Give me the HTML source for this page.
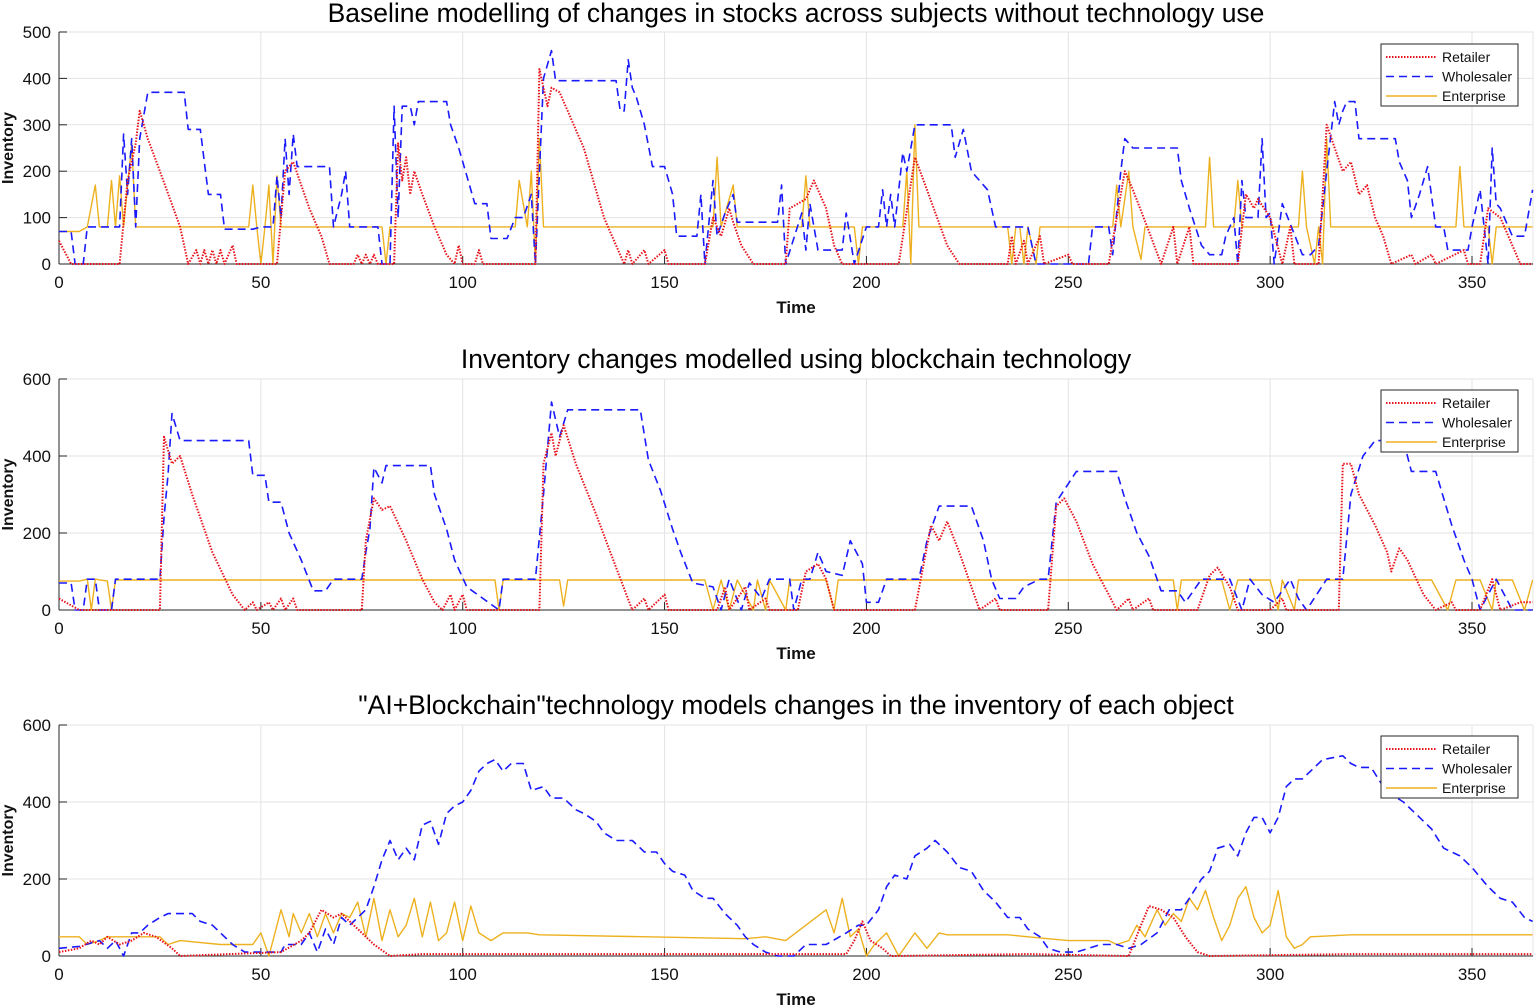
<!DOCTYPE html>
<html><head><meta charset="utf-8">
<style>
html,body{margin:0;padding:0;background:#fff;}
svg{display:block;font-family:"Liberation Sans",Arial,sans-serif;}
</style></head>
<body>
<svg id="chart" width="1535" height="1006" viewBox="0 0 1535 1006" xmlns="http://www.w3.org/2000/svg"></svg>
<script>
// ---------- Data (time, value breakpoints) ----------
const timeTicks = [0,50,100,150,200,250,300,350];
const p1Titles = "Baseline modelling of changes in stocks across subjects without technology use";
const p2Titles = "Inventory changes modelled using blockchain technology";
const p3Titles = "\"AI+Blockchain\"technology models changes in the inventory of each object";
const p1YTicks = [0,100,200,300,400,500];
const p2YTicks = [0,200,400,600];
const p3YTicks = [0,200,400,600];
const legendLabels = ["Retailer","Wholesaler","Enterprise"];

// Panel 1
const p1WholesalerT = [0,3,4,6,7,15,16,17,18,19,20,22,31,32,35,36,37,40,41,48,50,53,54,55,56,57,58,59,67,68,70,71,72,79,80,82,83,84,85,87,88,89,96,97,99,101,103,106,107,111,113,115,117,118,120,122,123,138,139,140,141,142,143,145,147,150,152,153,158,159,160,162,163,165,167,168,178,179,180,184,185,186,188,194,195,197,200,203,204,205,206,207,209,210,212,221,222,224,226,230,232,240,242,255,256,260,261,263,264,266,277,278,280,283,285,288,289,291,292,293,294,297,298,299,300,301,303,308,310,312,314,316,317,318,319,321,322,331,332,334,335,337,339,341,343,344,349,350,352,354,355,356,357,360,363,365];
const p1WholesalerV = [70,70,0,0,80,80,280,150,270,80,270,370,370,290,290,220,150,150,75,75,80,80,190,100,270,150,280,210,210,80,150,200,80,80,0,0,340,100,340,340,300,350,350,300,250,190,130,130,55,55,100,100,150,0,400,460,395,395,330,330,440,380,360,300,210,210,150,60,60,150,0,180,60,110,150,90,90,170,0,110,30,130,30,30,110,0,80,80,160,80,150,80,240,200,300,300,230,290,200,160,80,80,0,0,80,80,20,200,270,250,250,180,120,40,20,20,60,100,0,180,100,100,270,100,110,0,130,20,20,40,200,350,300,330,350,350,270,270,220,180,100,150,210,80,80,30,30,80,160,0,250,130,120,60,60,160];
const p1RetailerT = [0,3,15,17,19,20,22,25,30,32,34,35,36,37,38,39,40,41,43,44,54,56,58,62,65,67,73,74,75,76,77,78,79,83,84,85,86,87,88,90,93,96,98,99,100,103,104,105,118,119,121,122,124,130,135,140,141,142,145,146,150,151,160,162,164,166,167,169,172,180,181,185,187,190,192,194,208,212,215,220,223,235,236,237,239,240,243,244,250,251,260,262,264,266,270,273,276,277,280,281,292,294,296,297,300,303,305,306,312,314,316,318,320,322,324,326,328,330,335,336,340,341,348,349,352,354,357,362,365];
const p1RetailerV = [50,0,0,180,260,330,270,200,80,0,30,0,30,0,30,0,30,0,40,0,0,200,220,120,60,0,0,20,0,20,0,20,0,0,260,180,230,150,200,150,80,20,0,40,0,0,30,0,0,420,340,380,370,250,100,0,30,0,30,0,30,0,0,100,60,120,90,40,0,0,120,140,180,120,40,0,0,230,160,40,0,0,60,0,50,0,60,0,20,0,0,100,200,160,70,0,80,0,80,0,0,150,120,140,100,0,80,0,0,300,250,200,220,150,170,100,60,0,20,0,20,0,30,0,0,120,100,0,0];
const p1EnterpriseT = [0,5,7,9,10,12,13,14,15,16,18,19,47,48,49,50,51,52,53,54,55,80,81,82,113,114,116,117,118,119,120,162,163,164,167,168,184,185,186,197,198,199,209,210,211,212,213,235,236,237,238,239,240,242,243,244,261,262,263,265,266,268,269,284,285,286,291,292,293,307,308,309,311,312,313,314,315,346,347,348,354,355,356,365];
const p1EnterpriseV = [70,70,80,170,80,80,180,80,190,80,260,80,80,170,80,0,80,170,0,190,80,80,0,80,80,180,80,200,0,270,80,80,230,80,170,80,80,190,80,80,0,80,80,200,0,300,80,80,0,80,80,0,80,0,80,80,80,170,80,200,80,10,80,80,230,80,80,180,80,80,200,80,0,80,0,270,80,80,210,80,80,0,80,80];

// Panel 2
const p2WholesalerT = [0,3,4,6,7,9,10,13,14,25,26,27,28,30,47,48,51,52,55,57,60,63,66,68,75,76,77,78,80,81,92,93,96,98,101,109,110,118,120,122,124,126,144,146,149,152,154,157,162,164,166,169,171,174,176,181,182,184,186,188,190,194,196,199,200,203,205,213,215,218,226,229,231,233,237,239,243,245,247,252,262,264,267,270,273,277,279,283,290,293,295,298,301,305,307,309,314,318,320,323,326,333,335,341,343,345,348,350,352,356,360,365];
const p2WholesalerV = [70,70,0,0,80,80,0,0,80,80,240,350,510,440,440,350,350,280,280,200,130,50,50,80,80,150,210,370,330,375,375,300,210,130,60,0,80,80,300,540,450,520,520,390,310,210,150,70,60,0,80,0,70,30,80,80,0,80,80,150,100,90,180,120,20,20,80,80,180,270,270,180,80,30,30,60,80,80,280,360,360,290,200,140,50,50,20,80,80,0,80,40,20,80,30,0,80,80,300,400,440,440,360,360,290,220,130,80,0,80,0,0];
const p2RetailerT = [0,5,25,26,28,30,33,38,43,46,48,49,52,53,55,56,58,59,75,76,78,80,82,86,90,93,95,97,98,100,101,119,120,122,123,125,128,133,138,142,145,146,150,151,163,165,166,170,171,175,176,183,185,188,190,192,212,216,218,220,223,226,228,232,233,245,247,249,252,256,260,262,265,266,270,271,282,285,287,290,292,300,303,304,317,318,320,322,326,329,330,332,334,338,341,345,346,352,355,357,362,365];
const p2RetailerV = [30,0,0,450,380,400,300,150,40,0,20,0,20,0,30,0,30,0,0,180,290,260,270,180,80,20,0,40,0,40,0,0,380,460,400,480,380,250,110,0,30,0,40,0,0,60,0,60,0,30,0,0,100,120,80,0,0,220,180,230,150,60,0,30,0,0,270,290,230,120,40,0,30,0,30,0,0,90,110,60,0,0,30,0,0,380,380,300,220,150,100,160,130,40,0,20,0,0,80,0,20,20];
const p2EnterpriseT = [0,5,7,8,9,12,13,14,108,109,110,124,125,126,160,162,164,166,168,172,173,175,176,180,181,190,192,193,276,277,278,288,290,292,300,302,303,306,307,340,344,346,352,355,356,360,363,365];
const p2EnterpriseV = [75,75,80,0,80,75,0,78,78,0,78,78,10,78,78,0,78,0,78,0,78,0,78,0,78,78,0,78,78,0,78,78,0,78,78,0,78,0,78,78,0,78,78,0,78,78,0,78];

// Panel 3
const p3WholesalerT = [0,5,10,12,14,16,18,20,22,25,27,33,35,38,40,43,46,55,56,60,62,64,66,68,70,72,76,78,80,82,84,86,88,90,92,94,96,98,100,102,104,106,108,110,112,115,117,120,122,125,128,130,133,135,138,142,145,148,150,152,155,157,160,162,165,168,170,172,175,178,182,185,190,195,198,200,203,205,207,210,212,215,217,220,223,226,229,232,235,238,240,243,245,248,252,255,258,262,265,268,272,275,278,280,283,285,287,290,292,294,296,298,300,302,304,306,308,310,313,318,320,322,325,328,330,333,336,340,343,347,350,354,357,360,363,365];
const p3WholesalerV = [20,25,40,20,40,0,60,60,80,100,110,110,90,80,60,30,10,10,30,30,60,10,70,30,100,80,120,180,250,300,250,280,250,340,350,290,370,390,400,430,480,500,510,480,500,500,430,440,410,410,380,370,350,320,300,300,270,270,240,220,210,170,150,150,110,80,50,30,10,0,0,30,30,60,80,80,120,180,210,200,260,280,300,270,230,220,170,140,100,100,70,50,20,10,10,20,30,30,20,30,60,120,120,150,200,220,280,290,260,320,360,360,320,360,440,460,460,480,510,520,500,490,490,440,420,400,370,330,280,260,230,180,150,140,100,90];
const p3RetailerT = [0,5,8,10,12,15,18,21,24,28,30,55,60,62,65,68,70,72,75,78,82,90,120,150,195,197,199,201,204,206,240,265,268,270,273,276,279,282,285,320,365];
const p3RetailerV = [10,20,40,30,50,30,40,60,50,20,0,10,40,60,120,100,110,90,60,30,0,5,5,5,5,40,90,40,20,0,5,0,80,130,120,100,50,10,0,5,5];
const p3EnterpriseT = [0,5,7,10,12,25,27,30,40,48,50,52,54,55,57,58,60,62,64,66,68,70,72,74,76,78,80,82,84,86,88,90,92,94,96,98,100,102,104,107,110,116,119,170,175,180,185,190,192,194,196,198,200,202,205,208,212,215,218,220,235,240,250,260,262,265,267,269,272,274,276,278,280,282,284,286,288,290,292,294,296,298,300,302,304,306,308,310,320,365];
const p3EnterpriseV = [50,50,30,40,50,50,30,40,30,30,60,0,80,120,50,110,60,110,50,110,60,110,100,140,50,150,40,120,50,80,150,50,140,40,60,140,40,130,60,40,60,60,55,45,50,40,80,120,60,150,50,70,0,30,60,0,60,20,60,55,55,50,40,40,30,40,80,50,120,80,110,90,150,120,170,100,40,80,150,180,100,60,80,170,50,20,30,50,55,55];

// ---------- Drawing ----------
const NS = "http://www.w3.org/2000/svg";
const svg = document.getElementById("chart");
const X0 = 59, X1 = 1533, TMAX = 365;
function xScale(t){ return X0 + t * (1413/350); }
function mk(tag, attrs, parent){ const e=document.createElementNS(NS,tag); for(const k in attrs) e.setAttribute(k,attrs[k]); (parent||svg).appendChild(e); return e; }

const panels = [
 {title:p1Titles, top:32, bottom:264, ymax:500, yTicks:p1YTicks, titleY:22, name:"baseline",
  series:[[p1RetailerT,p1RetailerV],[p1WholesalerT,p1WholesalerV],[p1EnterpriseT,p1EnterpriseV]], legendTop:44},
 {title:p2Titles, top:379, bottom:610, ymax:600, yTicks:p2YTicks, titleY:368, name:"blockchain",
  series:[[p2RetailerT,p2RetailerV],[p2WholesalerT,p2WholesalerV],[p2EnterpriseT,p2EnterpriseV]], legendTop:390},
 {title:p3Titles, top:725, bottom:956, ymax:600, yTicks:p3YTicks, titleY:714, name:"ai-blockchain",
  series:[[p3RetailerT,p3RetailerV],[p3WholesalerT,p3WholesalerV],[p3EnterpriseT,p3EnterpriseV]], legendTop:736}
];
const styles = [
 {stroke:"#e8121b", dash:"1.5,1.5", w:2, name:"retailer"},
 {stroke:"#1a1aff", dash:"8,5", w:1.6, name:"wholesaler"},
 {stroke:"#edb120", dash:"", w:1.4, name:"enterprise"}
];

panels.forEach(p=>{
  const g = mk("g",{});
  
  
  const yScale = v => p.bottom - v/p.ymax*(p.bottom-p.top);
  mk("rect",{x:X0,y:p.top,width:X1-X0,height:p.bottom-p.top,fill:"#fff",stroke:"#e6e6e6"},g);
  timeTicks.forEach(t=>{ const x=xScale(t); const l=mk("line",{x1:x,x2:x,y1:p.top,y2:p.bottom,stroke:"#e3e3e3","stroke-width":1},g);
      });
  p.yTicks.forEach(v=>{ const y=yScale(v); const l=mk("line",{x1:X0,x2:X1,y1:y,y2:y,stroke:"#e3e3e3","stroke-width":1},g);
      });
  const ax = mk("line",{x1:X0,x2:X0,y1:p.top,y2:p.bottom,stroke:"#262626","stroke-width":1},g);
   
  const bx = mk("line",{x1:X0,x2:X1,y1:p.bottom,y2:p.bottom,stroke:"#262626","stroke-width":1},g);
   
  timeTicks.forEach(t=>{ const x=xScale(t);
    mk("line",{x1:x,x2:x,y1:p.bottom,y2:p.bottom-8,stroke:"#262626"},g);
    const tx=mk("text",{x:x,y:p.bottom+24,"text-anchor":"middle","font-size":17,fill:"#111"},g); tx.textContent=t;
      });
  p.yTicks.forEach(v=>{ const y=yScale(v);
    mk("line",{x1:X0,x2:X0+8,y1:y,y2:y,stroke:"#262626"},g);
    const tx=mk("text",{x:X0-8,y:y+6,"text-anchor":"end","font-size":17,fill:"#111"},g); tx.textContent=v;
      });
  const tt=mk("text",{x:796,y:p.titleY,"text-anchor":"middle","font-size":26.5,fill:"#000"},g); tt.textContent=p.title;
   
  const xl=mk("text",{x:796,y:p.bottom+49,"text-anchor":"middle","font-size":17,fill:"#111","font-weight":"bold"},g); xl.textContent="Time";
   
  const cy=(p.top+p.bottom)/2;
  const yl=mk("text",{x:13,y:cy,"text-anchor":"middle","font-size":16,fill:"#111","font-weight":"bold",transform:`rotate(-90 13 ${cy})`},g); yl.textContent="Inventory";
   
  [2,1,0].forEach(i=>{
    const [T,V]=p.series[i]; const s=styles[i];
    let d="";
    for(let k=0;k<T.length;k++){ const t=Math.min(T[k],TMAX); d+=(k?"L":"M")+xScale(t).toFixed(1)+","+yScale(V[k]).toFixed(1); }
    const path=mk("path",{d:d,fill:"none",stroke:s.stroke,"stroke-width":s.w,"stroke-dasharray":s.dash,"stroke-linejoin":"round"},g);
    
    
  });
  const lg=mk("g",{},g);
  
  
  mk("rect",{x:1381,y:p.legendTop,width:137,height:62,fill:"#fff",stroke:"#262626","stroke-width":1},lg);
  legendLabels.forEach((lab,i)=>{
    const y=p.legendTop+13+i*19.5; const s=styles[i];
    const e=mk("g",{},lg);
    
    
    mk("line",{x1:1386,x2:1437,y1:y,y2:y,stroke:s.stroke,"stroke-width":s.w,"stroke-dasharray":s.dash},e);
    const t=mk("text",{x:1442,y:y+5,"font-size":14,fill:"#111"},e); t.textContent=lab;
  });
});
</script>
</body></html>
